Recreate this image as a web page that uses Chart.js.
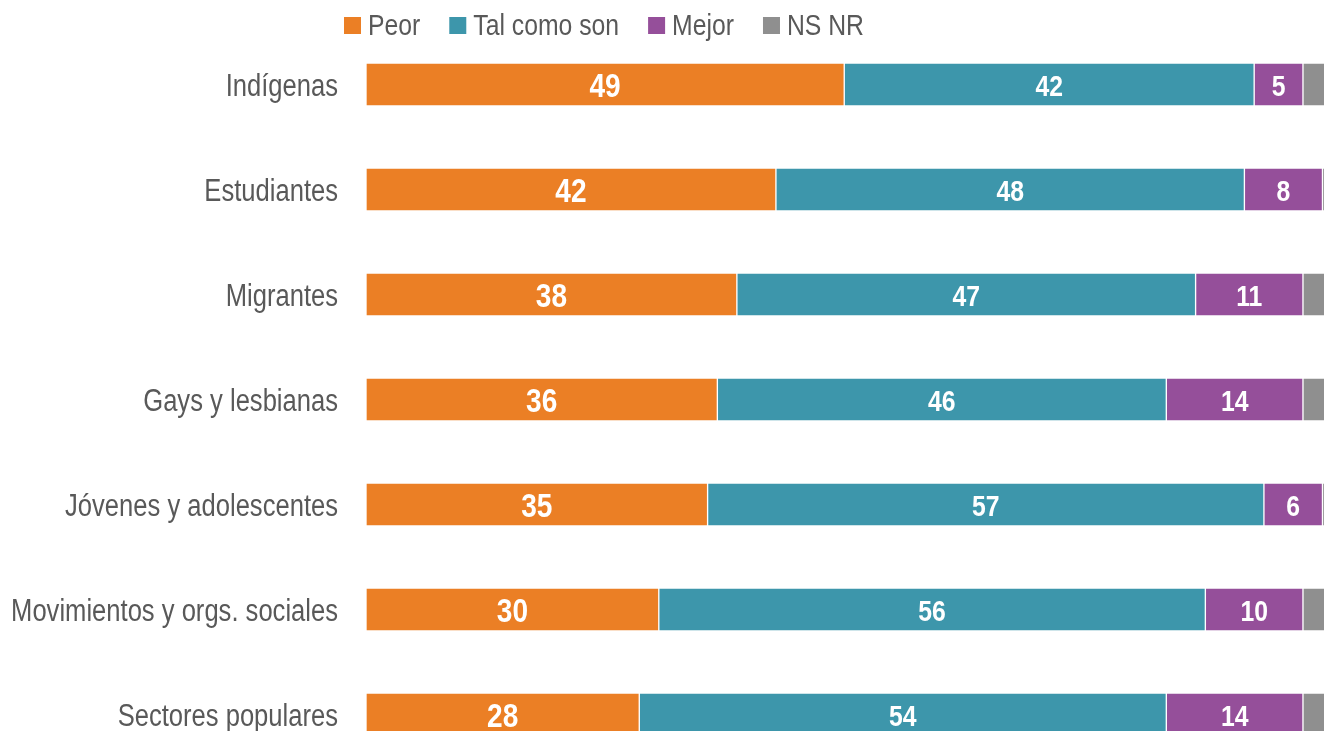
<!DOCTYPE html>
<html>
<head>
<meta charset="utf-8">
<script src="https://cdn.jsdelivr.net/npm/chart.js@4"></script>
<style>
  html, body { margin: 0; padding: 0; background: #fff; overflow: hidden; }
  #wrap { width: 1324px; height: 731px; overflow: hidden; position: relative; }
</style>
</head>
<body>
<div id="wrap"><canvas id="chart" width="1342" height="767"></canvas></div>
<script>
// Categories and series (percent)
const categories = ['Indígenas', 'Estudiantes', 'Migrantes', 'Gays y lesbianas',
  'Jóvenes y adolescentes', 'Movimientos y orgs. sociales', 'Sectores populares'];
const peor = [49, 42, 38, 36, 35, 30, 28];
const talComoSon = [42, 48, 47, 46, 57, 56, 54];
const mejor = [5, 8, 11, 14, 6, 10, 14];
const nsnr = [4, 2, 4, 4, 2, 4, 4];

const seriesNames = ['Peor', 'Tal como son', 'Mejor', 'NS NR'];
const colors = ['#EB7F25', '#3D96AB', '#954F9A', '#8F8F8F'];

// no narrow font installed: squeeze Liberation Sans horizontally
const FONT = '"Liberation Sans", Arial, sans-serif';
const NARROW = 0.825;
const TEXT = '#595959';

function narrowText(ctx, str, x, y, align) {
    ctx.save();
    ctx.translate(x, y);
    ctx.scale(NARROW, 1);
    ctx.textAlign = align;
    ctx.fillText(str, 0, 0);
    ctx.restore();
}

// category names left of the bars
const catLabels = {
    id: 'catLabels',
    afterDraw(chart) {
        const ctx = chart.ctx;
        const yScale = chart.scales.y;
        ctx.save();
        ctx.font = '31px ' + FONT;
        ctx.fillStyle = TEXT;
        ctx.textBaseline = 'middle';
        categories.forEach((c, i) => {
            narrowText(ctx, c, yScale.right - 28, yScale.getPixelForValue(i) + 3, 'right');
        });
        ctx.restore();
    }
};

// values in the middle of each segment (not on NS NR)
const barLabels = {
    id: 'barLabels',
    afterDatasetsDraw(chart) {
        const ctx = chart.ctx;
        ctx.save();
        ctx.fillStyle = '#fff';
        ctx.textBaseline = 'middle';
        chart.data.datasets.forEach((ds, di) => {
            if (di === 3) return;
            ctx.font = (di === 0 ? 'bold 34px ' : 'bold 30px ') + FONT;
            chart.getDatasetMeta(di).data.forEach((bar, i) => {
                const x = (bar.x + bar.base) / 2;
                narrowText(ctx, String(ds.data[i]), x, bar.y + 3, 'center');
            });
        });
        ctx.restore();
    }
};

// legend row at the top
const topLegend = {
    id: 'topLegend',
    afterDraw(chart) {
        const ctx = chart.ctx;
        ctx.save();
        ctx.font = '30px ' + FONT;
        ctx.textBaseline = 'middle';
        let x = 344;
        const y = 25;
        seriesNames.forEach((name, i) => {
            ctx.fillStyle = colors[i];
            ctx.fillRect(x, y - 8, 17, 17);
            ctx.fillStyle = TEXT;
            narrowText(ctx, name, x + 24, y + 2, 'left');
            x += 24 + ctx.measureText(name).width * NARROW + 29;
        });
        ctx.restore();
    }
};

new Chart(document.getElementById('chart'), {
    type: 'bar',
    data: {
        labels: categories,
        datasets: [peor, talComoSon, mejor, nsnr].map((d, i) => ({
            label: seriesNames[i],
            data: d,
            backgroundColor: colors[i],
            borderColor: 'rgba(255,255,255,0.55)',
            borderWidth: 1,
            borderSkipped: false,
            barThickness: 43
        }))
    },
    options: {
        indexAxis: 'y',
        responsive: false,
        animation: false,
        layout: { padding: { top: 32, right: 0, bottom: 0, left: 0 } },
        scales: {
            x: {
                stacked: true,
                min: 0,
                max: 100,
                display: false
            },
            y: {
                stacked: true,
                grid: { display: false, drawTicks: false },
                border: { display: false },
                ticks: { display: false },
                afterFit(scale) {
                    scale.width = 366;
                    scale.paddingTop = 0;
                    scale.paddingBottom = 0;
                }
            }
        },
        plugins: {
            legend: { display: false },
            tooltip: { enabled: false }
        }
    },
    plugins: [barLabels, catLabels, topLegend]
});
</script>
</body>
</html>
